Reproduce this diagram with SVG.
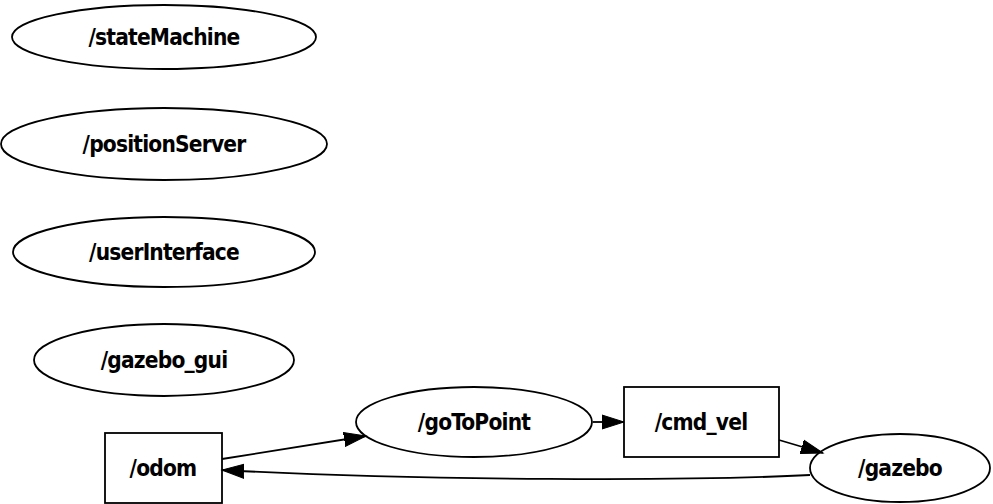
<svg xmlns="http://www.w3.org/2000/svg" width="993" height="504" viewBox="0 0 993 504">
<style>
.n{fill:#fff;stroke:#000;stroke-width:1.8}
.t{font-family:"DejaVu Sans Condensed","DejaVu Sans",sans-serif;font-weight:bold;font-size:22.5px;text-anchor:middle;letter-spacing:-0.8px;fill:#000}
.e{fill:none;stroke:#000;stroke-width:1.8}
</style>
<defs>
<marker id="a" markerUnits="userSpaceOnUse" markerWidth="24" markerHeight="16" viewBox="0 0 24 16" refX="22" refY="8" orient="auto">
<path d="M0,1 L22,8 L0,15 Z" fill="#000" stroke="#000" stroke-width="1"/>
</marker>
</defs>
<rect width="993" height="504" fill="#fff"/>
<g id="stateMachine"><ellipse class="n" cx="164" cy="37" rx="152" ry="32"/><text class="t" x="164" y="45">/stateMachine</text></g>
<g id="positionServer"><ellipse class="n" cx="164" cy="144" rx="163" ry="36"/><text class="t" x="164" y="152">/positionServer</text></g>
<g id="userInterface"><ellipse class="n" cx="164" cy="252" rx="151" ry="35"/><text class="t" x="164" y="260">/userInterface</text></g>
<g id="gazebo_gui"><ellipse class="n" cx="164" cy="360" rx="130" ry="36"/><text class="t" x="164" y="368">/gazebo_gui</text></g>
<g id="odom"><rect class="n" x="105" y="433" width="117" height="70"/><text class="t" x="163" y="476">/odom</text></g>
<g id="goToPoint"><ellipse class="n" cx="474" cy="422" rx="118" ry="35"/><text class="t" x="474" y="430">/goToPoint</text></g>
<g id="cmd_vel"><rect class="n" x="624" y="387" width="155" height="70"/><text class="t" x="701" y="430">/cmd_vel</text></g>
<g id="gazebo"><ellipse class="n" cx="900" cy="468" rx="90" ry="34"/><text class="t" x="900" y="476">/gazebo</text></g>
<g id="edges">
<path class="e" d="M222,459 L366,436" marker-end="url(#a)"/>
<path class="e" d="M593,422 L624,422" marker-end="url(#a)"/>
<path class="e" d="M779,440 L823,453" marker-end="url(#a)"/>
<path class="e" d="M810,475 C700,481 420,481 222,470" marker-end="url(#a)"/>
</g>
</svg>
